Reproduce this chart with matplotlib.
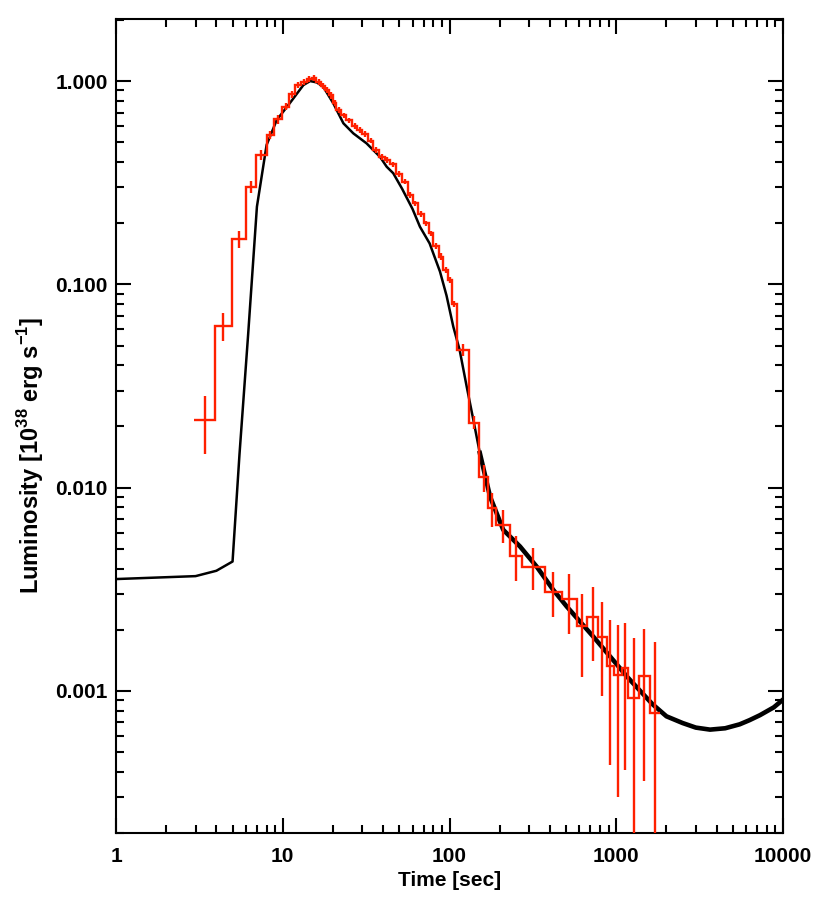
import numpy as np
import matplotlib
matplotlib.use("Agg")
import matplotlib.pyplot as plt
from matplotlib.ticker import FixedLocator, FixedFormatter, LogLocator, NullFormatter

# model light curve (black line)
model_t = [1.0, 3.0, 4.0, 5.0, 5.5, 6.2, 7.0, 8.0, 9.2, 11.0, 13.3, 14.6, 16.0, 17.5,
           20.1, 23.1, 26.5, 31.8, 38.3, 42.0, 46.0, 52.0, 60.0, 66.5, 76.0, 87.7,
           96.0, 105.4, 115.0, 126.8, 138.9, 152.0, 175.0, 210.0, 265.0, 333.0,
           419.0, 505.0, 728.0, 1000.0, 1155.0, 1650.0, 2000.0, 2500.0, 3000.0,
           3650.0, 4500.0, 5500.0, 6300.0, 7280.0, 8800.0, 10000.0]
model_lum = [0.00355, 0.00367, 0.0039, 0.00433, 0.0145, 0.0566, 0.241, 0.485, 0.643,
             0.777, 0.956, 1.0, 0.985, 0.937, 0.777, 0.62, 0.553, 0.494, 0.424,
             0.379, 0.352, 0.295, 0.235, 0.192, 0.159, 0.1155, 0.088, 0.0619,
             0.0476, 0.0314, 0.0216, 0.0148, 0.00904, 0.0062, 0.00513, 0.00409,
             0.00314, 0.0026, 0.00185, 0.00136, 0.00118, 0.00086, 0.00075, 0.000695,
             0.00066, 0.000645, 0.000655, 0.000685, 0.000718, 0.00076, 0.00083,
             0.000906]

# observed light curve (red histogram), rise
rise_edges = [2.94, 3.92, 4.94, 6.0, 6.91, 8.01, 8.9]
rise_lum = [0.0215, 0.0624, 0.167, 0.302, 0.433, 0.543]
rise_err = [0.0068, 0.0099, 0.016, 0.02, 0.025, 0.025]

# peak and decay, fine bins
peak_edges = [8.9, 9.9, 10.9, 11.9, 12.9, 13.9, 14.9, 15.9, 16.9, 17.9, 18.9, 19.9,
              21.0, 22.5, 24.0, 26.0, 28.0, 30.0, 32.5, 35.0, 38.0, 41.0, 44.0, 48.0,
              52.0, 56.0, 60.0, 65.0, 70.0, 75.0, 80.0, 86.0, 92.0, 98.0, 103.0, 110.4]
peak_lum = [0.648, 0.747, 0.863, 0.956, 0.992, 1.019, 1.031, 0.992, 0.945, 0.90,
            0.85, 0.78, 0.72, 0.68, 0.64, 0.60, 0.575, 0.55, 0.51, 0.46, 0.425,
            0.41, 0.39, 0.35, 0.32, 0.275, 0.25, 0.222, 0.20, 0.178, 0.155, 0.137,
            0.118, 0.105, 0.08]
peak_err = [0.03, 0.03, 0.035, 0.035, 0.035, 0.035, 0.035, 0.035, 0.03, 0.03, 0.03,
            0.025, 0.025, 0.02, 0.02, 0.02, 0.018, 0.018, 0.016, 0.015, 0.014, 0.013,
            0.012, 0.011, 0.01, 0.009, 0.008, 0.007, 0.006, 0.006, 0.005, 0.005,
            0.004, 0.004, 0.003]

# tail, coarse bins
tail_edges = [110.4, 131.8, 150.9, 170.9, 190.0, 230.6, 271.0, 373.9, 470.9, 577.6,
              665.0, 780.5, 876.4, 973.4, 1078.0, 1181.0, 1378.0, 1583.0, 1830.0]
tail_lum = [0.0476, 0.0209, 0.01124, 0.00793, 0.00656, 0.00462, 0.00409, 0.00308,
            0.00283, 0.00208, 0.00232, 0.00184, 0.00133, 0.0012, 0.00129, 0.000923,
            0.00119, 0.000779]
tail_err = [0.003, 0.0015, 0.0017, 0.0015, 0.0012, 0.00115, 0.00095, 0.00076,
            0.00093, 0.00091, 0.00092, 0.0009, 0.0009, 0.0009, 0.00088, 0.0009,
            0.00083, 0.00097]

x_ticks = [1, 10, 100, 1000, 10000]
x_labels = ["1", "10", "100", "1000", "10000"]
y_ticks = [0.001, 0.01, 0.1, 1.0]
y_labels = ["0.001", "0.010", "0.100", "1.000"]

RED = "#ff2000"

plt.rcParams["font.family"] = ["Liberation Sans", "DejaVu Sans"]
plt.rcParams["font.weight"] = "bold"
plt.rcParams["mathtext.fontset"] = "custom"
plt.rcParams["mathtext.rm"] = "Liberation Sans:bold"
plt.rcParams["mathtext.bf"] = "Liberation Sans:bold"

fig = plt.figure(figsize=(8.31, 9.11), dpi=100)
ax = fig.add_axes([116 / 831, 78 / 911, 667 / 831, 814 / 911])
ax.set_xscale("log")
ax.set_yscale("log")

# model: thin where smooth, thicker where it gets noisy
t = np.array(model_t)
lum = np.array(model_lum)
ax.plot(t[t <= 152], lum[t <= 152], color="black", lw=1.8, zorder=2)
ax.plot(t[t >= 152], lum[t >= 152], color="black", lw=3.3, zorder=2)

# data histogram with error bars
edges = np.concatenate([rise_edges, peak_edges[1:], tail_edges[1:]])
vals = np.concatenate([rise_lum, peak_lum, tail_lum])
errs = np.concatenate([rise_err, peak_err, tail_err])
centers = np.sqrt(edges[:-1] * edges[1:])
ax.stairs(vals, edges, color=RED, lw=1.7, baseline=None, zorder=3)
ax.errorbar(centers, vals, yerr=errs, fmt="none", ecolor=RED, elinewidth=1.7,
            capsize=0, zorder=3)

ax.set_xlim(1, 10000)
ax.set_ylim(2.0e-4, 2.02)

ax.xaxis.set_major_locator(FixedLocator(x_ticks))
ax.xaxis.set_major_formatter(FixedFormatter(x_labels))
ax.yaxis.set_major_locator(FixedLocator(y_ticks))
ax.yaxis.set_major_formatter(FixedFormatter(y_labels))
ax.xaxis.set_minor_locator(LogLocator(base=10, subs=np.arange(2, 10)))
ax.yaxis.set_minor_locator(LogLocator(base=10, subs=np.arange(2, 10)))
ax.xaxis.set_minor_formatter(NullFormatter())
ax.yaxis.set_minor_formatter(NullFormatter())

ax.tick_params(which="both", direction="in", top=True, right=True, width=1.5,
               labelsize=15)
ax.tick_params(which="major", length=11)
ax.tick_params(which="minor", length=5.5)
ax.tick_params(axis="x", pad=10)
ax.tick_params(axis="y", pad=6)
for s in ax.spines.values():
    s.set_linewidth(1.5)

ax.set_xlabel("Time [sec]", fontsize=15, fontweight="bold", labelpad=4)
ax.set_ylabel(r"Luminosity [10$^{38}$ erg s$^{-1}$]", fontsize=17,
              fontweight="bold")
ax.yaxis.set_label_coords(-0.105, 0.464)

fig.savefig("out.png", dpi=100)
